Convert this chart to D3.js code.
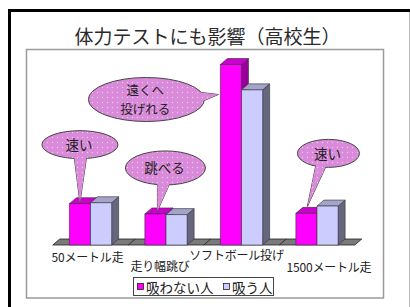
<!DOCTYPE html>
<html><head><meta charset="utf-8">
<script src="https://cdn.jsdelivr.net/npm/d3@7"></script>
<style>html,body{margin:0;padding:0;background:#fff;}svg{display:block;font-family:"Noto Sans CJK JP","Noto Sans",sans-serif;}</style>
</head><body>
<svg id="c" width="410" height="307"></svg>
<script>
const title = "体力テストにも影響（高校生）";
const categories = ["50メートル走", "走り幅跳び", "ソフトボール投げ", "1500メートル走"];
const seriesNames = ["吸わない人", "吸う人"];
const nonSmokers = [43.5, 32.7, 190, 33.3];
const smokers = [44.5, 32, 163.3, 41];
const calloutCats = [0, 2, 1, 3];
const calloutTexts = [["速い"], ["遠くへ", "投げれる"], ["跳べる"], ["速い"]];

const svg = d3.select("#c");
const W = 410, H = 307;
svg.append("rect").attr("width", W).attr("height", H).attr("fill", "#fff");

// outer frame
svg.append("path").attr("d", "M9.5,310 V10.5 H420").attr("fill", "none").attr("stroke", "#000").attr("stroke-width", 3);
svg.append("line").attr("x1", 409.5).attr("x2", 409.5).attr("y1", 12).attr("y2", 307).attr("stroke", "#bbb").attr("stroke-width", 1);
// inner plot frame
svg.append("rect").attr("x", 26.5).attr("y", 49.5).attr("width", 357).attr("height", 248.5)
  .attr("fill", "#fff").attr("stroke", "#9a9a9a").attr("stroke-width", 1.5);

svg.append("text").attr("x", 207.5).attr("y", 35).attr("text-anchor", "middle").attr("dominant-baseline", "central")
  .attr("font-size", 19).attr("fill", "#2a2a2a").text(title);

const x = d3.scaleBand().domain(categories).range([52.75, 354.75]).paddingInner(0.44).paddingOuter(0.22);
const xs = d3.scaleBand().domain([0, 1]).range([0, x.bandwidth()]);
const y = d3.scaleLinear().domain([0, 200]).range([245, 55]);
const dx = 7, dy = 6;
const y0 = y(0);

// floor
const [r0, r1] = x.range();
svg.append("path").attr("d", `M${r0},${y0} L${r1},${y0} L${r1 + dx},${y0 - dy} L${r0 + dx},${y0 - dy} Z`)
  .attr("fill", "#7a7a7a").attr("stroke", "#222").attr("stroke-width", 0.8);
categories.slice(1).forEach(c => {
  const bx = x(c) - x.step() * x.paddingInner() / 2;
  svg.append("line").attr("x1", bx).attr("y1", y0).attr("x2", bx + dx).attr("y2", y0 - dy)
    .attr("stroke", "#222").attr("stroke-width", 0.8);
});

const colors = [
  { front: "#ff00ff", top: "#cc00cc", side: "#990099" },
  { front: "#ccccff", top: "#a3a3cc", side: "#66667f" }
];
const seriesData = [nonSmokers, smokers];

const bars = svg.append("g");
categories.forEach((c, i) => {
  seriesData.forEach((vals, s) => {
    const x0 = x(c) + xs(s), w = xs.bandwidth(), yt = y(vals[i]);
    const col = colors[s];
    const g = bars.append("g").attr("stroke", "#333").attr("stroke-width", 0.6).attr("stroke-linejoin", "round");
    g.append("path").attr("d", `M${x0 + w},${yt} L${x0 + w + dx},${yt - dy} L${x0 + w + dx},${y0 - dy} L${x0 + w},${y0} Z`).attr("fill", col.side);
    g.append("path").attr("d", `M${x0},${yt} L${x0 + dx},${yt - dy} L${x0 + w + dx},${yt - dy} L${x0 + w},${yt} Z`).attr("fill", col.top);
    g.append("rect").attr("x", x0).attr("y", yt).attr("width", w).attr("height", y0 - yt).attr("fill", col.front);
  });
});

// category labels (staggered)
const labelDx = [-3, -6, -5, 12];
const labelY = [256, 265.5, 254.5, 266];
svg.append("g").selectAll("text").data(categories).join("text")
  .attr("x", (d, i) => x(d) + x.bandwidth() / 2 + labelDx[i])
  .attr("y", (d, i) => labelY[i])
  .attr("text-anchor", "middle").attr("dominant-baseline", "central")
  .attr("font-size", 12).attr("fill", "#222").attr("letter-spacing", -0.2).text(d => d);

// legend
const lg = svg.append("g");
lg.append("rect").attr("x", 133.5).attr("y", 277.5).attr("width", 140).attr("height", 18)
  .attr("fill", "#fff").attr("stroke", "#444").attr("stroke-width", 1);
const legX = [137, 223];
seriesNames.forEach((n, s) => {
  lg.append("rect").attr("x", legX[s] + 0.5).attr("y", 283.5).attr("width", 6).attr("height", 6)
    .attr("fill", colors[s].front).attr("stroke", "#222").attr("stroke-width", 0.8);
  lg.append("text").attr("x", legX[s] + 9).attr("y", 287).attr("dominant-baseline", "central")
    .attr("font-size", 13.5).attr("fill", "#222").text(n);
});

// callout bubbles
const defs = svg.append("defs");
const pat = defs.append("pattern").attr("id", "dots").attr("patternUnits", "userSpaceOnUse").attr("width", 5).attr("height", 5);
pat.append("rect").attr("width", 5).attr("height", 5).attr("fill", "#d98bd9");
pat.append("circle").attr("cx", 2.5).attr("cy", 2.5).attr("r", 0.7).attr("fill", "#f2c6f2");

const bubbles = [
  { ex: 0, ey: -59, rx: 38, ry: 14, base: [[-6, 10], [7, 10]], tip: [0, -1] },
  { ex: -74, ey: 35, rx: 58, ry: 22, base: [[46, -8], [46, 6]], tip: [-2, 30], left: true },
  { ex: 10, ey: -46, rx: 40, ry: 17, base: [[-8, 12], [5, 14]], tip: [2, -3] },
  { ex: 22, ey: -60, rx: 31, ry: 14, base: [[-12, 9], [-2, 12]], tip: [1, -7] }
];
const bl = svg.append("g");
bubbles.forEach((b, k) => {
  const ci = calloutCats[k];
  const c = categories[ci];
  const barX = x(c) + xs(0);
  const ax = b.left ? barX : barX + xs.bandwidth() / 2;
  const ay = y(nonSmokers[ci]);
  const cx = ax + b.ex, cy = ay + b.ey;
  const tri = `M${cx + b.base[0][0]},${cy + b.base[0][1]} L${ax + b.tip[0]},${ay + b.tip[1]} L${cx + b.base[1][0]},${cy + b.base[1][1]} Z`;
  bl.append("path").attr("d", tri).attr("fill", "url(#dots)").attr("stroke", "#444").attr("stroke-width", 1);
  bl.append("ellipse").attr("cx", cx).attr("cy", cy).attr("rx", b.rx).attr("ry", b.ry)
    .attr("fill", "url(#dots)").attr("stroke", "#444").attr("stroke-width", 1);
  bl.append("path").attr("d", tri).attr("fill", "url(#dots)");
  const lines = calloutTexts[k];
  const fs = lines.length > 1 ? 12.5 : 13.5;
  const t = bl.append("text").attr("text-anchor", "middle").attr("font-size", fs).attr("fill", "#222");
  lines.forEach((s, li) => {
    t.append("tspan").attr("x", cx - 1).attr("y", cy + (li - (lines.length - 1) / 2) * 18.5 - 0.5)
      .attr("dominant-baseline", "central").text(s);
  });
});
</script>
</body></html>
